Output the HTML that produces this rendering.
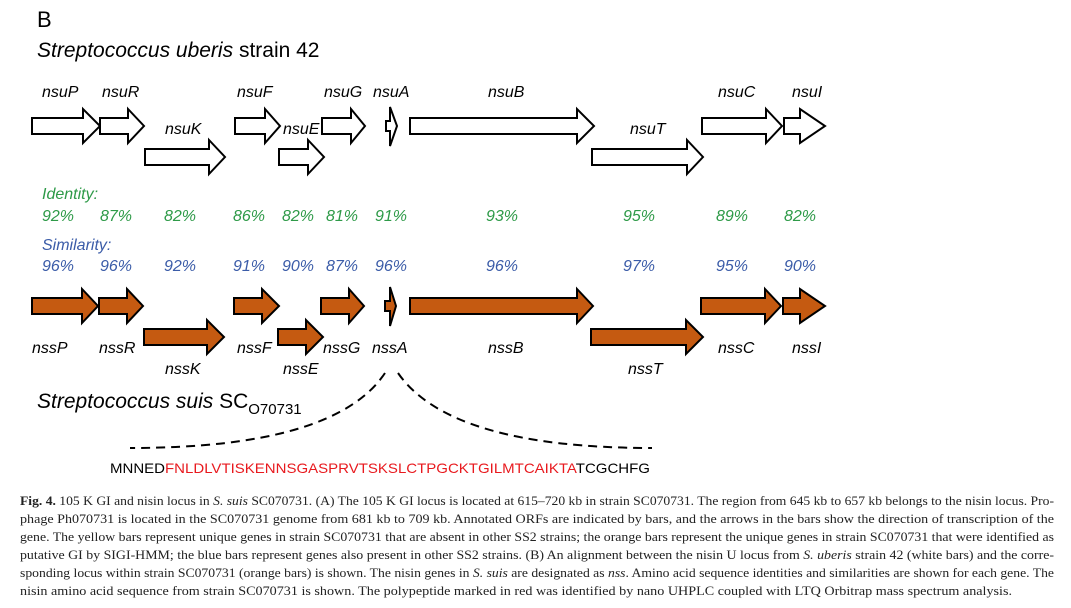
<!DOCTYPE html>
<html><head><meta charset="utf-8"><style>
html,body{margin:0;padding:0;background:#fff;}
svg{display:block;}
.l{font-family:"Liberation Sans",sans-serif;font-style:italic;font-size:16px;}
.g{fill:#2e9a48;} .b{fill:#3b5ca8;}
.cap{font-family:"Liberation Serif",serif;font-size:12.5px;fill:#222;}
</style></head><body>
<svg width="1071" height="608" viewBox="0 0 1071 608" xmlns="http://www.w3.org/2000/svg">
<text x="37" y="27" font-family="Liberation Sans,sans-serif" font-size="22">B</text>
<text x="37" y="57" font-family="Liberation Sans,sans-serif" font-size="21"><tspan font-style="italic">Streptococcus uberis</tspan> strain 42</text>

<g fill="#fff" stroke="#000" stroke-width="2">
<polygon points="32,118 83,118 83,109 100,126 83,143 83,134 32,134"/>
<polygon points="100,118 128,118 128,109 144,126 128,143 128,134 100,134"/>
<polygon points="145,149 209,149 209,140 225,157 209,174 209,165 145,165"/>
<polygon points="235,118 265,118 265,109 280,126 265,143 265,134 235,134"/>
<polygon points="279,149 308,149 308,140 324,157 308,174 308,165 279,165"/>
<polygon points="322,118 351,118 351,109 365,126 351,143 351,134 322,134"/>
<polygon points="386,121 390,121 390,107 397,126 390,146 390,131 386,131"/>
<polygon points="410,118 577,118 577,109 594,126 577,143 577,134 410,134"/>
<polygon points="592,149 687,149 687,140 703,157 687,174 687,165 592,165"/>
<polygon points="702,118 766,118 766,109 782,126 766,143 766,134 702,134"/>
<polygon points="784,118 800,118 800,109 825,126 800,143 800,134 784,134"/>
</g>
<g fill="#c55a11" stroke="#000" stroke-width="2">
<polygon points="32,298 82,298 82,289 98,306 82,323 82,314 32,314"/>
<polygon points="99,298 127,298 127,289 143,306 127,323 127,314 99,314"/>
<polygon points="144,329 207,329 207,320 224,337 207,354 207,345 144,345"/>
<polygon points="234,298 262,298 262,289 279,306 262,323 262,314 234,314"/>
<polygon points="278,329 306,329 306,320 323,337 306,354 306,345 278,345"/>
<polygon points="321,298 349,298 349,289 364,306 349,323 349,314 321,314"/>
<polygon points="385,301 390,301 390,287 396,306 390,326 390,311 385,311"/>
<polygon points="410,298 577,298 577,289 593,306 577,323 577,314 410,314"/>
<polygon points="591,329 686,329 686,320 703,337 686,354 686,345 591,345"/>
<polygon points="701,298 765,298 765,289 781,306 765,323 765,314 701,314"/>
<polygon points="783,298 800,298 800,289 825,306 800,323 800,314 783,314"/>
</g>

<g class="l">
<text x="42" y="97">nsuP</text><text x="102" y="97">nsuR</text>
<text x="165" y="134">nsuK</text><text x="237" y="97">nsuF</text>
<text x="283" y="134">nsuE</text><text x="324" y="97">nsuG</text>
<text x="373" y="97">nsuA</text><text x="488" y="97">nsuB</text>
<text x="630" y="134">nsuT</text><text x="718" y="97">nsuC</text>
<text x="792" y="97">nsuI</text>

<text x="32" y="353">nssP</text><text x="99" y="353">nssR</text>
<text x="165" y="374">nssK</text><text x="237" y="353">nssF</text>
<text x="283" y="374">nssE</text><text x="323" y="353">nssG</text>
<text x="372" y="353">nssA</text><text x="488" y="353">nssB</text>
<text x="628" y="374">nssT</text><text x="718" y="353">nssC</text>
<text x="792" y="353">nssI</text>
</g>
<g class="l g">
<text x="42" y="199">Identity:</text>
<text x="42" y="221">92%</text><text x="100" y="221">87%</text><text x="164" y="221">82%</text>
<text x="233" y="221">86%</text><text x="282" y="221">82%</text><text x="326" y="221">81%</text>
<text x="375" y="221">91%</text><text x="486" y="221">93%</text><text x="623" y="221">95%</text>
<text x="716" y="221">89%</text><text x="784" y="221">82%</text>
</g>
<g class="l b">
<text x="42" y="250">Similarity:</text>
<text x="42" y="271">96%</text><text x="100" y="271">96%</text><text x="164" y="271">92%</text>
<text x="233" y="271">91%</text><text x="282" y="271">90%</text><text x="326" y="271">87%</text>
<text x="375" y="271">96%</text><text x="486" y="271">96%</text><text x="623" y="271">97%</text>
<text x="716" y="271">95%</text><text x="784" y="271">90%</text>
</g>

<text x="37" y="408" font-family="Liberation Sans,sans-serif" font-size="21"><tspan font-style="italic">Streptococcus suis</tspan> SC<tspan font-size="15" dy="6">O70731</tspan></text>

<g fill="none" stroke="#000" stroke-width="2" stroke-dasharray="9,6">
<path d="M385,373 Q335,448 130,448"/>
<path d="M398,373 Q450,448 652,448"/>
</g>
<text x="110" y="473" font-family="Liberation Sans,sans-serif" font-size="14" textLength="540" lengthAdjust="spacingAndGlyphs">MNNED<tspan fill="#e8191e">FNLDLVTISKENNSGASPRVTSKSLCTPGCKTGILMTCAIKTA</tspan>TCGCHFG</text>

<g class="cap">
<text x="20" y="505" textLength="1034" lengthAdjust="spacingAndGlyphs"><tspan font-weight="bold">Fig. 4.</tspan> 105 K GI and nisin locus in <tspan font-style="italic">S. suis</tspan> SC070731. (A) The 105 K GI locus is located at 615–720 kb in strain SC070731. The region from 645 kb to 657 kb belongs to the nisin locus. Pro-</text>
<text x="20" y="523" textLength="1034" lengthAdjust="spacingAndGlyphs">phage Ph070731 is located in the SC070731 genome from 681 kb to 709 kb. Annotated ORFs are indicated by bars, and the arrows in the bars show the direction of transcription of the</text>
<text x="20" y="541" textLength="1034" lengthAdjust="spacingAndGlyphs">gene. The yellow bars represent unique genes in strain SC070731 that are absent in other SS2 strains; the orange bars represent the unique genes in strain SC070731 that were identified as</text>
<text x="20" y="559" textLength="1034" lengthAdjust="spacingAndGlyphs">putative GI by SIGI-HMM; the blue bars represent genes also present in other SS2 strains. (B) An alignment between the nisin U locus from <tspan font-style="italic">S. uberis</tspan> strain 42 (white bars) and the corre-</text>
<text x="20" y="577" textLength="1034" lengthAdjust="spacingAndGlyphs">sponding locus within strain SC070731 (orange bars) is shown. The nisin genes in <tspan font-style="italic">S. suis</tspan> are designated as <tspan font-style="italic">nss</tspan>. Amino acid sequence identities and similarities are shown for each gene. The</text>
<text x="20" y="595" textLength="992" lengthAdjust="spacingAndGlyphs">nisin amino acid sequence from strain SC070731 is shown. The polypeptide marked in red was identified by nano UHPLC coupled with LTQ Orbitrap mass spectrum analysis.</text>
</g>
</svg>
</body></html>
